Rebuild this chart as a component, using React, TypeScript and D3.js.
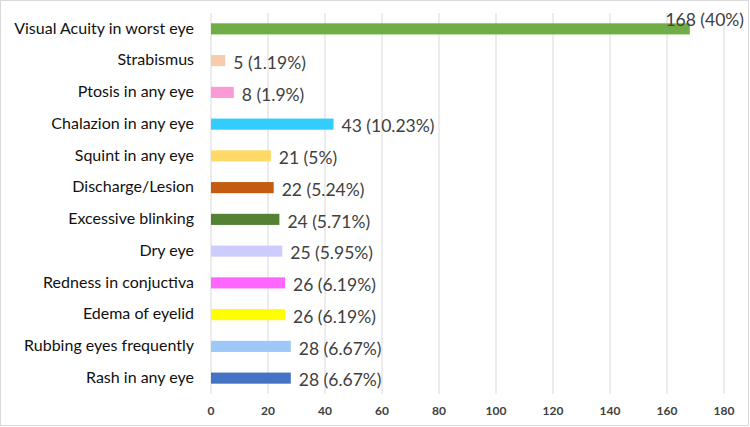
import React, { useEffect, useRef } from 'react';
import * as d3 from 'd3';

const categories = [
  'Visual Acuity in worst eye',
  'Strabismus',
  'Ptosis in any eye',
  'Chalazion in any eye',
  'Squint in any eye',
  'Discharge/Lesion',
  'Excessive blinking',
  'Dry eye',
  'Redness in conjuctiva',
  'Edema of eyelid',
  'Rubbing eyes frequently',
  'Rash in any eye',
];
const counts = [168, 5, 8, 43, 21, 22, 24, 25, 26, 26, 28, 28];
const labels = [
  '168 (40%)', '5 (1.19%)', '8 (1.9%)', '43 (10.23%)', '21 (5%)', '22 (5.24%)',
  '24 (5.71%)', '25 (5.95%)', '26 (6.19%)', '26 (6.19%)', '28 (6.67%)', '28 (6.67%)',
];
const colors = [
  '#70AD47', '#F8CBAD', '#FA9BD6', '#33CCFF', '#FFD966', '#C55A11',
  '#548235', '#CCCCFF', '#FF66FF', '#FFFF00', '#9DC8F7', '#4472C4',
];
const ticks = [0, 20, 40, 60, 80, 100, 120, 140, 160, 180];

const W = 750;
const H = 427;
const m = { left: 211, right: 26, top: 13, bottom: 33 };

const App = () => {
  const svgRef = useRef<SVGSVGElement>(null);

  useEffect(() => {
    const svg = d3.select(svgRef.current);
    svg.selectAll('*').remove();

    const x = d3.scaleLinear().domain([0, 180]).range([m.left, W - m.right]);
    const y = d3.scaleBand()
      .domain(categories)
      .range([m.top, H - m.bottom])
      .paddingInner(0.65)
      .paddingOuter(0.325);

    svg.append('rect')
      .attr('x', 0.5).attr('y', 0.5)
      .attr('width', W - 2).attr('height', H - 2)
      .attr('fill', '#fff')
      .attr('stroke', '#d9d9d9');

    // gridlines
    svg.append('g')
      .selectAll('line')
      .data(ticks)
      .enter()
      .append('line')
      .attr('x1', d => x(d)).attr('x2', d => x(d))
      .attr('y1', m.top).attr('y2', H - m.bottom)
      .attr('stroke', '#d9d9d9')
      .attr('stroke-width', 1);

    // x tick labels
    svg.append('g')
      .selectAll('text')
      .data(ticks)
      .enter()
      .append('text')
      .attr('x', d => x(d))
      .attr('y', H - m.bottom + 21)
      .attr('text-anchor', 'middle')
      .style('font-family', 'Lato, "Open Sans", sans-serif')
      .style('font-size', '12px')
      .style('font-weight', 'bold')
      .attr('fill', '#404040')
      .text(d => d);

    // category labels
    svg.append('g')
      .selectAll('text')
      .data(categories)
      .enter()
      .append('text')
      .attr('x', 194)
      .attr('y', d => y(d)! + y.bandwidth() / 2)
      .attr('dy', '0.3em')
      .attr('text-anchor', 'end')
      .style('font-family', 'Lato, "Open Sans", sans-serif')
      .style('font-size', '16px')
      .attr('fill', '#111')
      .text(d => d);

    // bars
    svg.append('g')
      .selectAll('rect')
      .data(counts)
      .enter()
      .append('rect')
      .attr('x', x(0))
      .attr('y', (d, i) => y(categories[i])!)
      .attr('width', d => x(d) - x(0))
      .attr('height', y.bandwidth())
      .attr('fill', (d, i) => colors[i]);

    // data labels
    svg.append('g')
      .selectAll('text')
      .data(counts)
      .enter()
      .append('text')
      .attr('x', (d, i) => (i === 0 ? W - 6 : x(d) + 8))
      .attr('y', (d, i) => y(categories[i])! + y.bandwidth() / 2 + (i === 0 ? -9 : 2))
      .attr('dy', '0.35em')
      .attr('text-anchor', (d, i) => (i === 0 ? 'end' : 'start'))
      .style('font-family', 'Lato, "Open Sans", sans-serif')
      .style('font-size', '17.5px')
      .attr('fill', '#404040')
      .text((d, i) => labels[i]);
  }, []);

  return <svg ref={svgRef} width={W} height={H} style={{ position: 'absolute', left: 0, top: 0 }}></svg>;
};

export default App;
